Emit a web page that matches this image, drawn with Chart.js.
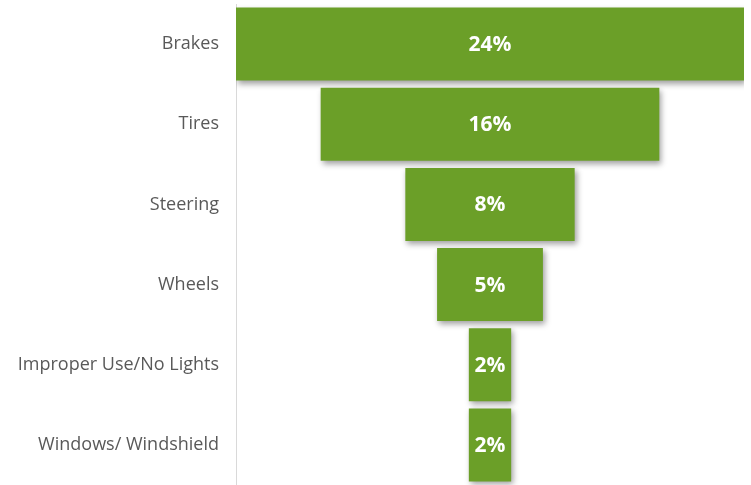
<!DOCTYPE html>
<html>
<head>
<meta charset="utf-8">
<script src="https://cdn.jsdelivr.net/npm/chart.js@4/dist/chart.umd.min.js"></script>
<style>
  html, body { margin: 0; padding: 0; background: #ffffff; }
  #wrap { width: 751px; height: 485px; }
</style>
</head>
<body>
<div id="wrap"><canvas id="funnel"></canvas></div>
<script>
// Share of vehicle defects by component
const categories = ['Brakes', 'Tires', 'Steering', 'Wheels', 'Improper Use/No Lights', 'Windows/ Windshield'];
const shares = [24, 16, 8, 5, 2, 2];

const barColor = '#6b9f28';
const labelColor = '#595959';

// Each funnel step is a floating bar centred on zero
const spans = shares.map(v => [-v / 2, v / 2]);
const halfMax = Math.max(...shares) / 2;

// Soft drop shadow under the bars
const barShadow = {
  id: 'barShadow',
  beforeDatasetsDraw(chart) {
    const ctx = chart.ctx;
    ctx.save();
    ctx.shadowColor = 'rgba(0,0,0,0.38)';
    ctx.shadowBlur = 6;
    ctx.shadowOffsetX = 2;
    ctx.shadowOffsetY = 3;
  },
  afterDatasetsDraw(chart) {
    chart.ctx.restore();
  }
};

// Percentage text in the middle of each bar
const valueLabels = {
  id: 'valueLabels',
  afterDatasetsDraw(chart) {
    const ctx = chart.ctx;
    const meta = chart.getDatasetMeta(0);
    ctx.save();
    ctx.fillStyle = '#ffffff';
    ctx.font = 'bold 21px "Open Sans", sans-serif';
    ctx.textAlign = 'center';
    ctx.textBaseline = 'middle';
    meta.data.forEach((bar, i) => {
      const cx = (bar.x + bar.base) / 2;
      ctx.fillText(shares[i] + '%', cx, bar.y + 1);
    });
    ctx.restore();
  }
};

new Chart(document.getElementById('funnel'), {
  type: 'bar',
  data: {
    labels: categories,
    datasets: [{
      data: spans,
      backgroundColor: barColor,
      borderWidth: 0,
      barPercentage: 0.91,
      categoryPercentage: 1.0
    }]
  },
  options: {
    indexAxis: 'y',
    responsive: true,
    maintainAspectRatio: false,
    animation: false,
    layout: { padding: { top: 4, right: 7, bottom: 0, left: 0 } },
    plugins: {
      legend: { display: false },
      tooltip: { enabled: false }
    },
    scales: {
      x: {
        display: false,
        min: -halfMax,
        max: halfMax
      },
      y: {
        grid: { display: false },
        border: { display: true, color: '#d9d9d9', width: 1 },
        ticks: {
          color: labelColor,
          padding: 9,
          font: { family: '"Open Sans", sans-serif', size: 18 }
        },
        afterFit(scale) {
          scale.width = 236;
          scale.paddingTop = 0;
          scale.paddingBottom = 0;
        }
      }
    }
  },
  plugins: [barShadow, valueLabels]
});
</script>
</body>
</html>
